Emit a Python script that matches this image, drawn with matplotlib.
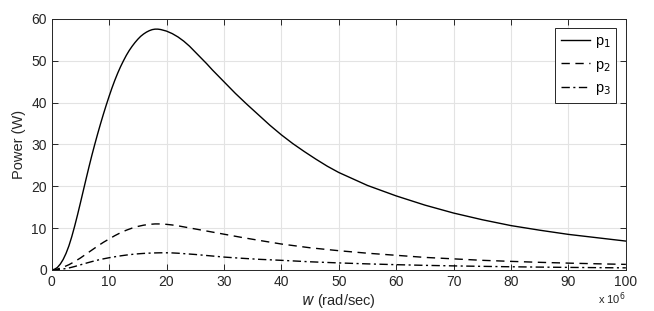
import matplotlib.pyplot as plt

plt.rcParams["font.family"] = ["Liberation Sans", "DejaVu Sans"]

# w in units of 1e6 rad/sec, power in W
w1 = [0, 0.5, 1, 1.5, 2, 2.5, 3, 3.5, 4, 4.5, 5, 5.5, 6, 6.5, 7, 7.5, 8,
      8.5, 9, 9.5, 10, 10.5, 11, 11.5, 12, 12.5, 13, 13.5, 14, 14.5, 15,
      15.5, 16, 16.5, 17, 17.5, 18, 18.5, 19, 20, 21, 22, 23, 24, 25, 26,
      27, 28, 29, 30, 32, 34, 36, 38, 40, 42, 44, 46, 48, 50, 55, 60, 65,
      70, 75, 80, 85, 90, 95, 100]
p1 = [0, 0.15, 0.6, 1.4, 2.5, 3.95, 5.75, 7.95, 10.45, 13.15, 16.0, 18.9,
      21.8, 24.65, 27.4, 30.0, 32.5, 34.9, 37.2, 39.4, 41.5, 43.5, 45.35,
      47.05, 48.6, 50.0, 51.3, 52.45, 53.45, 54.35, 55.15, 55.85, 56.4,
      56.85, 57.2, 57.45, 57.57, 57.57, 57.47, 57.1, 56.5, 55.7, 54.7,
      53.5, 52.1, 50.7, 49.3, 47.8, 46.4, 45.0, 42.2, 39.6, 37.1, 34.6,
      32.3, 30.2, 28.3, 26.5, 24.8, 23.3, 20.2, 17.7, 15.5, 13.6, 12.0,
      10.6, 9.5, 8.5, 7.7, 6.9]

w2 = [0, 1, 2, 3, 4, 5, 6, 7, 8, 9, 10, 11, 12, 13, 14, 15, 16, 17, 18,
      19, 20, 21, 22, 23, 25, 27, 30, 33, 36, 40, 45, 50, 55, 60, 65, 70,
      75, 80, 85, 90, 95, 100]
p2 = [0, 0.2, 0.65, 1.25, 2.0, 2.85, 3.8, 4.75, 5.7, 6.6, 7.4, 8.2, 8.9,
      9.5, 10.0, 10.4, 10.7, 10.9, 11.0, 11.0, 10.9, 10.75, 10.55, 10.3,
      9.8, 9.3, 8.55, 7.8, 7.1, 6.2, 5.3, 4.6, 4.0, 3.5, 3.0, 2.65, 2.3,
      2.05, 1.82, 1.63, 1.47, 1.33]

w3 = [0, 1, 2, 3, 4, 5, 6, 7, 8, 9, 10, 11, 12, 13, 14, 15, 16, 17, 18,
      19, 20, 21, 22, 23, 25, 27, 30, 33, 36, 40, 45, 50, 55, 60, 65, 70,
      75, 80, 85, 90, 95, 100]
p3 = [0, 0.07, 0.23, 0.47, 0.82, 1.22, 1.62, 2.0, 2.35, 2.65, 2.92, 3.15,
      3.37, 3.56, 3.72, 3.85, 3.95, 4.02, 4.07, 4.1, 4.1, 4.07, 4.0, 3.9,
      3.7, 3.45, 3.08, 2.8, 2.55, 2.3, 1.95, 1.68, 1.45, 1.26, 1.1, 0.97,
      0.86, 0.76, 0.68, 0.61, 0.55, 0.5]

xticks = list(range(0, 101, 10))
yticks = list(range(0, 61, 10))

fig = plt.figure(figsize=(6.54, 3.11), dpi=100)
ax = fig.add_axes([0.079, 0.132, 0.878, 0.807])

ax.plot(w1, p1, color="black", lw=1.0, ls="-", label="p$_1$")
ax.plot(w2, p2, color="black", lw=1.0, ls=(0, (6, 4)), label="p$_2$")
ax.plot(w3, p3, color="black", lw=1.0, ls=(0, (6, 2.5, 1.5, 2.5)), label="p$_3$")

ax.set_xlim(0, 100)
ax.set_ylim(0, 60)
ax.set_xticks(xticks)
ax.set_yticks(yticks)
ax.grid(True, color="#e3e3e3", lw=0.8)
ax.set_axisbelow(True)
ax.tick_params(direction="in", length=4, width=0.7, colors="#262626",
               labelsize=10, top=True, right=True)
for s in ax.spines.values():
    s.set_color("#262626")
    s.set_linewidth(0.7)

ax.set_xlabel("$\\it{w}$ (rad/sec)", fontsize=10.5, color="#262626", labelpad=2)
ax.set_ylabel("Power (W)", fontsize=10.5, color="#262626", labelpad=4)
ax.text(1.0, -0.08, "x 10$^6$", transform=ax.transAxes, ha="right", va="top",
        fontsize=8, color="#262626")

leg = ax.legend(loc="upper right", fontsize=10.5, fancybox=False,
                edgecolor="#262626", framealpha=1, handlelength=2.0,
                handletextpad=0.3, borderaxespad=0.65, labelspacing=0.5,
                borderpad=0.4)
leg.get_frame().set_linewidth(0.7)

fig.savefig("out.png", dpi=100)
